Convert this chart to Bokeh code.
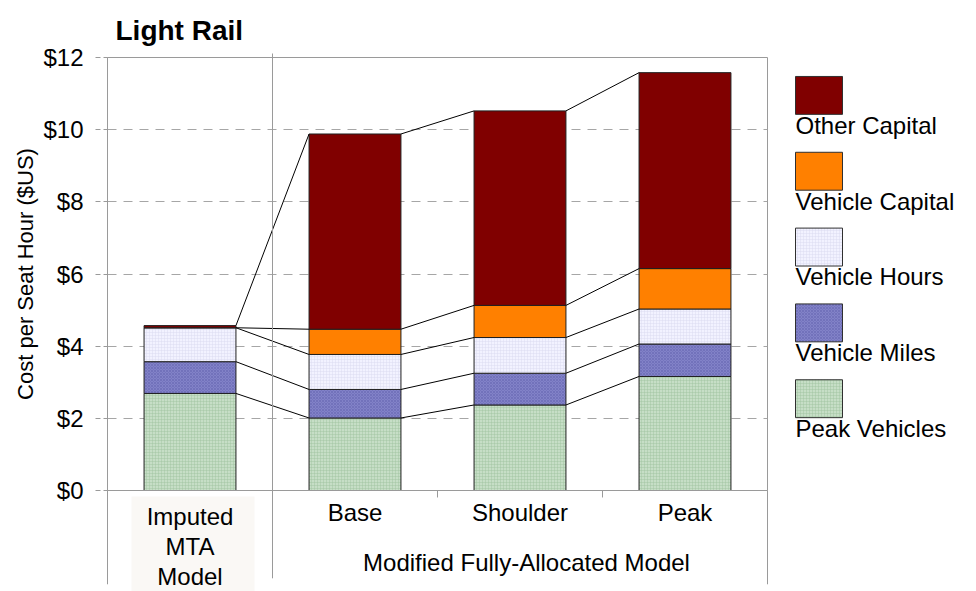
import numpy as np
from bokeh.plotting import figure
from bokeh.models import Range1d, FixedTicker, NumeralTickFormatter
from bokeh.core.properties import value
from bokeh.embed import file_html
from bokeh.resources import INLINE

# ---------------- data ----------------
chart_title = "Light Rail"
y_label = "Cost per Seat Hour ($US)"
categories = ["Imputed MTA Model", "Base", "Shoulder", "Peak"]
imputed_label_lines = ["Imputed", "MTA", "Model"]
group_names = ["Imputed MTA Model", "Modified Fully-Allocated Model"]
group_sizes = [1, 3]
series = ["Peak Vehicles", "Vehicle Miles", "Vehicle Hours", "Vehicle Capital", "Other Capital"]
peak_vehicles = [2.69, 2.01, 2.37, 3.16]
vehicle_miles = [0.88, 0.79, 0.88, 0.90]
vehicle_hours = [0.94, 0.97, 0.99, 0.97]
vehicle_capital = [0.00, 0.70, 0.89, 1.12]
other_capital = [0.06, 5.41, 5.39, 5.43]
y_ticks = [0, 2, 4, 6, 8, 10, 12]

values = [peak_vehicles, vehicle_miles, vehicle_hours, vehicle_capital, other_capital]

# ---------------- styles ----------------
FONT = "Liberation Sans"
styles = {
    "Peak Vehicles":   dict(fill_color="#C6DEC6", hatch_pattern="+", hatch_color="#9CC09C", hatch_scale=3, hatch_weight=0.6, hatch_alpha=0.7),
    "Vehicle Miles":   dict(fill_color="#8282C8", hatch_pattern="x", hatch_color="#5C5CA8", hatch_scale=3, hatch_weight=0.6, hatch_alpha=0.7),
    "Vehicle Hours":   dict(fill_color="#F2F2FF", hatch_pattern="+", hatch_color="#DCDCF0", hatch_scale=3, hatch_weight=0.6, hatch_alpha=0.8),
    "Vehicle Capital": dict(fill_color="#FF8000"),
    "Other Capital":   dict(fill_color="#800000"),
}
GRAY = "#9A9A9A"
BAR_W = 0.557
W, H = 976, 591

# pixel helpers (picture coordinates -> data) for text / decorations
FRAME_L, FRAME_R, FRAME_T, FRAME_B = 107, 767, 56, 490
XPX = (FRAME_R - FRAME_L) / 4.0
YPX = (FRAME_B - FRAME_T) / 12.0
def px(x):
    return (x - FRAME_L) / XPX
def py(y):
    return (FRAME_B - y) / YPX

p = figure(width=W, height=H, x_range=Range1d(0, len(categories)), y_range=Range1d(0, 12),
           output_backend="svg", toolbar_location=None,
           min_border_left=FRAME_L, min_border_right=W - FRAME_R,
           min_border_top=FRAME_T, min_border_bottom=H - FRAME_B)
p.background_fill_color = "white"
p.border_fill_color = "white"
p.outline_line_color = GRAY
p.outline_line_width = 1

# title
p.title.text = chart_title
p.title.text_font = FONT
p.title.text_font_size = "28px"
p.title.text_font_style = "bold"
p.title.text_color = "black"
p.title.align = "left"
p.title.offset = 8
p.title.standoff = 24

# y axis
p.yaxis.ticker = FixedTicker(ticks=y_ticks)
p.yaxis.formatter = NumeralTickFormatter(format="$0")
p.yaxis.axis_label = y_label
p.yaxis.axis_label_text_font = FONT
p.yaxis.axis_label_text_font_size = "22px"
p.yaxis.axis_label_text_font_style = "normal"
p.yaxis.axis_label_text_color = "black"
p.yaxis.axis_label_standoff = 2
p.yaxis.major_label_text_font = FONT
p.yaxis.major_label_text_font_size = "24px"
p.yaxis.major_label_text_color = "black"
p.yaxis.major_label_standoff = 12
p.yaxis.major_tick_out = 12
p.yaxis.major_tick_in = 0
p.yaxis.major_tick_line_color = GRAY
p.yaxis.major_tick_line_dash = "5 3"
p.yaxis.minor_tick_line_color = None
p.yaxis.axis_line_color = GRAY

# x axis (category labels)
centers = [i + 0.5 for i in range(len(categories))]
p.xaxis.ticker = FixedTicker(ticks=centers)
overrides = {c: name for c, name in zip(centers, categories)}
overrides[centers[0]] = ""
p.xaxis.major_label_overrides = overrides
p.xaxis.major_label_text_font = FONT
p.xaxis.major_label_text_font_size = "24px"
p.xaxis.major_label_text_color = "black"
p.xaxis.major_label_standoff = 8
p.xaxis.major_tick_out = 0
p.xaxis.major_tick_in = 0
p.xaxis.minor_tick_line_color = None
p.xaxis.axis_line_color = GRAY

# grid
p.xgrid.grid_line_color = None
p.ygrid.ticker = FixedTicker(ticks=y_ticks[1:-1])
p.ygrid.grid_line_color = "#A6A6A6"
p.ygrid.grid_line_dash = "9 7"
p.ygrid.grid_line_width = 1

TEXT_KW = dict(text_font=value(FONT), text_font_size="24px", text_color="black",
               text_baseline="alphabetic")

# Imputed label background + text
bg = p.quad(left=px(131), right=px(254), top=py(496), bottom=py(600),
            fill_color="#FAF8F5", line_color=None)
bg.level = "guide"
t1 = p.text(x=[centers[0]] * len(imputed_label_lines),
            y=[py(516 + 30 * k) for k in range(len(imputed_label_lines))],
            text=imputed_label_lines, text_align="center", **TEXT_KW)
t1.level = "overlay"
# group label
t2 = p.text(x=[px(526)], y=[py(562)], text=[group_names[1]], text_align="center", **TEXT_KW)
t2.level = "overlay"

# group separators and category ticks
edges = list(np.cumsum([0] + group_sizes))
inner = [b for b in range(1, len(categories)) if b not in edges]
sep_top = [0 if (e == 0 or e == len(categories)) else py(52) for e in edges]
sep_bot = [py(584) if (e == 0 or e == len(categories)) else py(578) for e in edges]
r = p.segment(x0=edges, y0=sep_top, x1=edges, y1=sep_bot, line_color=GRAY, line_width=1)
r.level = "overlay"
r2 = p.segment(x0=inner, y0=[0] * len(inner), x1=inner, y1=[py(497)] * len(inner), line_color=GRAY, line_width=1)
r2.level = "overlay"

# stacked bars
vals = np.array(values)
tops = np.cumsum(vals, axis=0)
bottoms = tops - vals
for s, name in enumerate(series):
    p.vbar(x=centers, width=BAR_W, bottom=list(bottoms[s]), top=list(tops[s]),
           line_color="#202020", line_width=1, **styles[name])

# series lines between neighbouring bars
for s, name in enumerate(series):
    x0 = [centers[i] + BAR_W / 2 for i in range(len(categories) - 1)]
    x1 = [centers[i + 1] - BAR_W / 2 for i in range(len(categories) - 1)]
    p.segment(x0=x0, y0=list(tops[s][:-1]), x1=x1, y1=list(tops[s][1:]), line_color="black", line_width=1)

# legend (swatch above label)
legend_names = list(reversed(series))
for k, name in enumerate(legend_names):
    top_px = 75 + 76 * k
    lr = p.quad(left=px(795), right=px(842), top=py(top_px), bottom=py(top_px + 38),
                line_color="#303030", line_width=1, **styles[name])
    lr.level = "overlay"
t3 = p.text(x=[px(795)] * len(legend_names), y=[py(75 + 76 * k + 49) for k in range(len(legend_names))],
            text=legend_names, text_align="left", **TEXT_KW)
t3.level = "overlay"

open("out.html", "w").write(file_html(p, INLINE))
